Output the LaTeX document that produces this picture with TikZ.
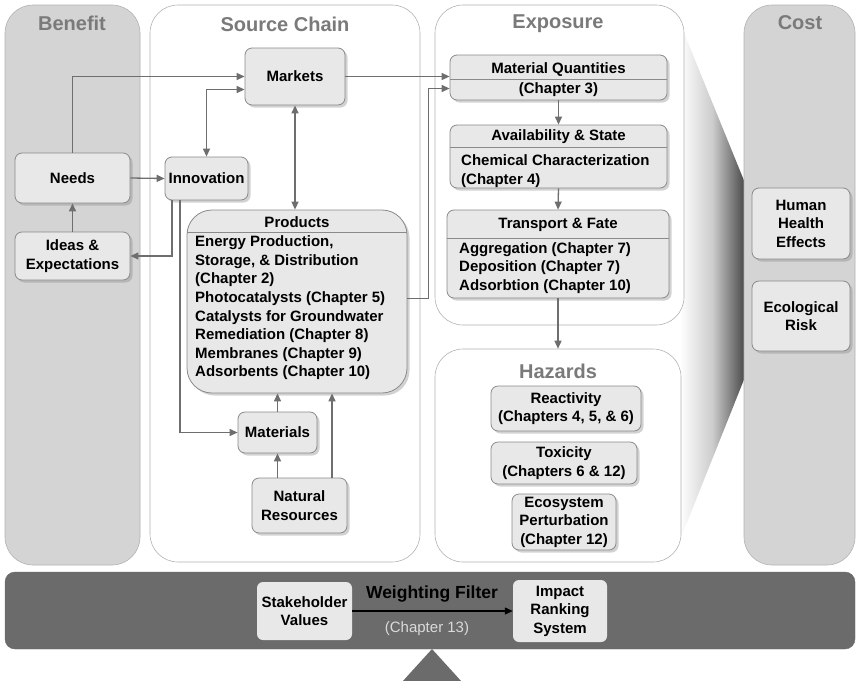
\documentclass[tikz,border=0pt]{standalone}
\usepackage{fontspec}
\setmainfont{Liberation Sans}
\usetikzlibrary{arrows.meta,shadows,calc}
\definecolor{colgray}{HTML}{D4D4D4}
\definecolor{titlegray}{HTML}{7A7A7A}
\definecolor{boxfill}{HTML}{E8E8E8}
\definecolor{boxline}{HTML}{8A8A8A}
\definecolor{arrgray}{HTML}{6E6E6E}
\definecolor{bargray}{HTML}{6B6B6B}
\definecolor{chapgray}{HTML}{DADADA}
\begin{document}
\begin{tikzpicture}[x=1pt,y=-1pt,
  col/.style={draw=gray!60, line width=0.6pt, rounded corners=28pt, inner sep=0pt},
  gcol/.style={col, fill=colgray},
  wcol/.style={col, fill=white},
  ttl/.style={font=\fontsize{20}{24}\selectfont\bfseries, text=titlegray, inner sep=0pt},
  bx/.style={draw=boxline, line width=0.8pt, fill=boxfill, rounded corners=7pt,
    drop shadow={shadow xshift=2.5pt, shadow yshift=-2.5pt, opacity=0.35},
    font=\fontsize{15}{18.5}\selectfont\bfseries, align=center, inner sep=0pt},
  txt/.style={font=\fontsize{15}{18.6}\selectfont\bfseries, inner sep=0pt},
  arr/.style={draw=arrgray, line width=1.3pt, -{Triangle[length=8pt,width=7pt]}},
  darr/.style={draw=arrgray, line width=1.3pt, {Triangle[length=8pt,width=7pt]}-{Triangle[length=8pt,width=7pt]}},
  bbx/.style={fill=boxfill, rounded corners=6pt, inner sep=0pt, align=center,
    font=\fontsize{15}{18.6}\selectfont\bfseries}
]
\useasboundingbox (0,0) rectangle (858,680);

% funnel shading
\shade[left color=white, right color=black!72, middle color=gray!40]
  (682,28) -- (745,183) -- (745,377) -- (680,540) -- cycle;

% columns
\node[gcol, minimum width=135, minimum height=560] (benefit) at (72.5,285) {};
\node[wcol, minimum width=270, minimum height=557] (source) at (285,283.5) {};
\node[wcol, minimum width=249, minimum height=320] (expo) at (559.5,165) {};
\node[wcol, minimum width=246, minimum height=213] (haz) at (558,455.5) {};
\node[gcol, minimum width=111, minimum height=560] (cost) at (799.5,285) {};

\node[ttl] (tBenefit) at (72,23) {Benefit};
\node[ttl] (tSource) at (285,24) {Source Chain};
\node[ttl] (tExpo) at (558,24) {Exposure};
\node[ttl] (tHaz) at (558,371) {Hazards};
\node[ttl] (tCost) at (800,23) {Cost};

% benefit nodes
\node[bx, minimum width=115, minimum height=50] (needs) at (72.5,178) {Needs};
\node[bx, minimum width=115, minimum height=48] (ideas) at (72.5,256) {Ideas \&\\Expectations};

% source chain nodes
\node[bx, minimum width=83, minimum height=43] (innov) at (206.5,178.5) {Innovation};
\node[bx, minimum width=100, minimum height=57] (markets) at (295,76.5) {Markets};
\node[bx, rounded corners=25pt, minimum width=220, minimum height=183] (products) at (297,301.5) {};
\draw[boxline, line width=0.8pt] (187,232) -- (407,232);
\node[txt] (prodH) at (297,222) {Products};
\node[txt, anchor=west, align=left] (prodB) at (195,308) {Energy Production,\\Storage, \& Distribution\\(Chapter 2)\\Photocatalysts (Chapter 5)\\Catalysts for Groundwater\\Remediation (Chapter 8)\\Membranes (Chapter 9)\\Adsorbents (Chapter 10)};
\node[bx, minimum width=79, minimum height=41] (materials) at (277.5,432.5) {Materials};
\node[bx, minimum width=95, minimum height=55] (natural) at (299.5,505.5) {Natural\\Resources};

% exposure nodes
\node[bx, minimum width=217, minimum height=45] (mq) at (558.5,77.5) {};
\draw[boxline, line width=0.8pt] (450,79) -- (667,79);
\node[txt] (mqH) at (558.5,70) {Material Quantities};
\node[txt] (mqB) at (558.5,90) {(Chapter 3)};

\node[bx, minimum width=217, minimum height=63] (as) at (558.5,156.5) {};
\draw[boxline, line width=0.8pt] (450,147) -- (667,147);
\node[txt] (asH) at (558.5,137) {Availability \& State};
\node[txt, anchor=west, align=left] (asB) at (461,171) {Chemical Characterization\\(Chapter 4)};

\node[bx, minimum width=222, minimum height=88] (tf) at (558,254) {};
\draw[boxline, line width=0.8pt] (447,238) -- (669,238);
\node[txt] (tfH) at (558,225) {Transport \& Fate};
\node[txt, anchor=west, align=left] (tfB) at (459,268) {Aggregation (Chapter 7)\\Deposition (Chapter 7)\\Adsorbtion (Chapter 10)};

% hazards nodes
\node[bx, minimum width=150, minimum height=45] (react) at (566,408.5) {Reactivity\\(Chapters 4, 5, \& 6)};
\node[bx, minimum width=146, minimum height=42] (tox) at (564,463) {Toxicity\\(Chapters 6 \& 12)};
\node[bx, minimum width=104, minimum height=56] (eco) at (564,522) {Ecosystem\\Perturbation\\(Chapter 12)};

% cost nodes
\node[bx, minimum width=98, minimum height=71] (hhe) at (801,223.5) {Human\\Health\\Effects};
\node[bx, minimum width=98, minimum height=70] (er) at (801,316) {Ecological\\Risk};

% connectors
\draw[arr] (ideas.north) -- (needs.south);
\draw[arr] (needs.east) -- (innov.west);
\draw[arr] (needs.north) |- (markets.west);
\draw[darr] (innov.north) |- ($(markets.west)+(0,13)$);
\draw[darr] (markets.south) -- (markets.south |- products.north);
\draw[arr] ($(innov.south)+(-34.5,0)$) |- (ideas.east);
\draw[arr] ($(innov.south)+(-26.5,0)$) |- (materials.west);
\draw[arr] (materials.north) -- (materials.north |- products.south);
\draw[arr] (materials.south |- natural.north) -- (materials.south);
\draw[arr] ($(natural.north)+(32.5,0)$) -- ($(natural.north |- products.south)+(32.5,0)$);
\draw[arr] ($(products.east)+(0,-3)$) -- ++(21,0) |- ($(mq.west)+(0,11)$);
\draw[arr] (markets.east) -- (markets.east -| mq.west);
\draw[arr] (mq.south) -- (as.north);
\draw[arr] (as.south) -- (tf.north);
\draw[arr] (tf.south) -- (tf.south |- haz.north);

% bottom bar
\node[fill=bargray, draw=black!60, rounded corners=10pt, minimum width=850, minimum height=77, inner sep=0pt] (bar) at (430,610.5) {};
\fill[bargray] (432,649) -- (402,682) -- (462,682) -- cycle;
\node[bbx, minimum width=95, minimum height=58] (stake) at (304.5,611) {Stakeholder\\Values};
\node[bbx, minimum width=94, minimum height=62] (impact) at (560,611) {Impact\\Ranking\\System};
\draw[black, line width=1.2pt, -{Triangle[length=8pt,width=7pt]}] (stake.east) -- (impact.west);
\node[font=\fontsize{17.5}{20}\selectfont\bfseries, inner sep=0pt] (wf) at (432,594) {Weighting Filter};
\node[font=\fontsize{15}{18}\selectfont, text=chapgray, inner sep=0pt] (ch13) at (427,629) {(Chapter 13)};
\end{tikzpicture}
\end{document}
